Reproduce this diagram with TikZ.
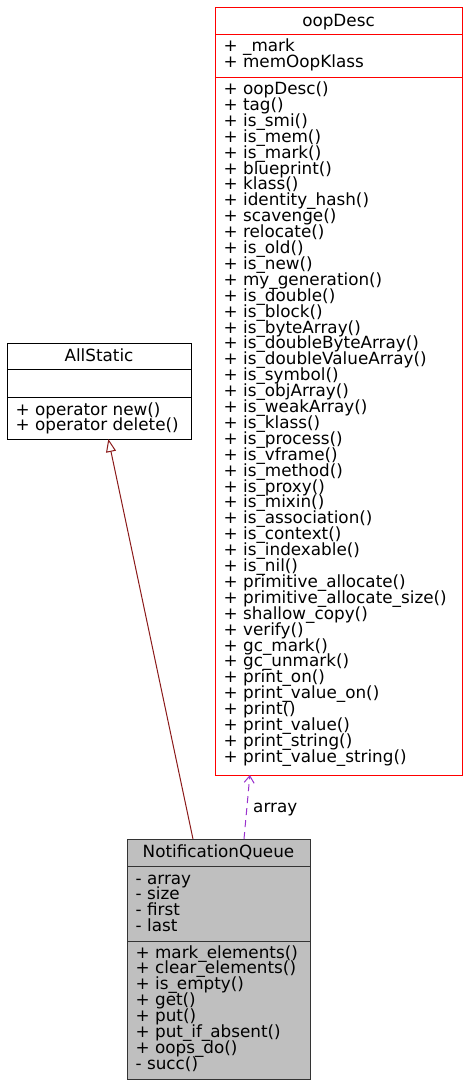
\documentclass[tikz,border=0pt]{standalone}
\usepackage{fontspec}
\setmainfont{DejaVu Sans}
\usetikzlibrary{arrows.meta}
\definecolor{edgered}{RGB}{139, 26, 26}
\definecolor{edgeorchid}{RGB}{154, 50, 205}
\definecolor{boxgray}{RGB}{191, 191, 191}

\begin{document}
\begin{tikzpicture}[x=1pt, y=-1pt,
  classbox/.style={draw, line width=1pt, inner sep=0pt, outer sep=0pt, anchor=north west},
  member/.style={anchor=base west, inner sep=0pt, font=\fontsize{16.8}{16}\selectfont},
  title/.style={anchor=base, inner sep=0pt, font=\fontsize{16.8}{16}\selectfont},
  inherit/.style={edgered, line width=1pt, -{Triangle[open, length=13pt, width=10pt]}},
  usage/.style={edgeorchid, line width=1pt, dash pattern=on 7pt off 5pt, -{Straight Barb[length=7pt, width=10pt]}}]

\useasboundingbox (0,0) rectangle (468,1087);

% oopDesc
\node[classbox, draw=red, minimum width=247, minimum height=768] (oopdesc) at (215,7) {};
\draw[red, line width=1pt] (oopdesc.west |- 0,34) -- (oopdesc.east |- 0,34);
\draw[red, line width=1pt] (oopdesc.west |- 0,77) -- (oopdesc.east |- 0,77);
\node[title] (oopdesc-t) at (338.5,26) {oopDesc};
\foreach \a [count=\i from 0] in {\_mark, memOopKlass} {
  \node[member] (oopdesc-a\i) at (223.5,{51.5+\i*15.9}) {+ \a};
}
\foreach \m [count=\i from 0] in {oopDesc(), tag(), is\_smi(), is\_mem(), is\_mark(), blueprint(),
    klass(), identity\_hash(), scavenge(), relocate(), is\_old(), is\_new(), my\_generation(),
    is\_double(), is\_block(), is\_byteArray(), is\_doubleByteArray(), is\_doubleValueArray(),
    is\_symbol(), is\_objArray(), is\_weakArray(), is\_klass(), is\_process(), is\_vframe(),
    is\_method(), is\_proxy(), is\_mixin(), is\_association(), is\_context(), is\_indexable(),
    is\_nil(), primitive\_allocate(), primitive\_allocate\_size(), shallow\_copy(), verify(),
    gc\_mark(), gc\_unmark(), print\_on(), print\_value\_on(), print(), print\_value(),
    print\_string(), print\_value\_string()} {
  \node[member] (oopdesc-m\i) at (223.5,{94.5+\i*15.9}) {+ \m};
}

% AllStatic
\node[classbox, minimum width=184, minimum height=96] (allstatic) at (7,343) {};
\draw[line width=1pt] (allstatic.west |- 0,369) -- (allstatic.east |- 0,369);
\draw[line width=1pt] (allstatic.west |- 0,397) -- (allstatic.east |- 0,397);
\node[title] (allstatic-t) at (99,361) {AllStatic};
\foreach \m [count=\i from 0] in {operator new(), operator delete()} {
  \node[member] (allstatic-m\i) at (15.5,{415+\i*15.9}) {+ \m};
}

% NotificationQueue
\node[classbox, draw=black!80, fill=boxgray, minimum width=183, minimum height=240] (nq) at (127,839) {};
\draw[black!80, line width=1pt] (nq.west |- 0,866) -- (nq.east |- 0,866);
\draw[black!80, line width=1pt] (nq.west |- 0,941) -- (nq.east |- 0,941);
\node[title] (nq-t) at (218.5,857) {NotificationQueue};
\foreach \a [count=\i from 0] in {array, size, first, last} {
  \node[member] (nq-a\i) at (135.5,{884+\i*15.9}) {- \a};
}
\foreach \m [count=\i from 0] in {+ mark\_elements(), + clear\_elements(), + is\_empty(), + get(),
    + put(), + put\_if\_absent(), + oops\_do(), - succ()} {
  \node[member] (nq-m\i) at (135.5,{958+\i*15.9}) {\m};
}

% Edges
\draw[inherit] (nq.102.45) -- (allstatic.281.77);
\draw[usage] (nq.78.92) -- (oopdesc.257.87);
\node[member] (array-lbl) at (253,812) {array};

\end{tikzpicture}
\end{document}
